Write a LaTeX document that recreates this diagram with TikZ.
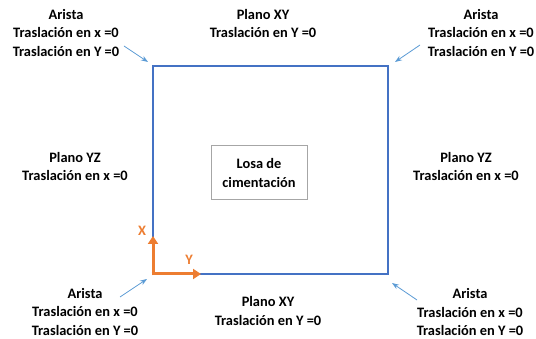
\documentclass[tikz,border=0pt]{standalone}
\usepackage{fontspec}
\setmainfont{Carlito}
\usetikzlibrary{arrows.meta}
\definecolor{slab}{HTML}{4472C4}
\definecolor{ptr}{HTML}{5B9BD5}
\definecolor{axis}{HTML}{ED7D31}
\definecolor{boxgrey}{HTML}{A6A6A6}
\tikzset{
  lbl/.style={align=center, font=\fontsize{14.4}{18.5}\selectfont\bfseries, inner sep=0pt},
  pointer/.style={ptr, line width=0.8pt, -{Stealth[length=7pt,width=5pt]}},
  axisarrow/.style={axis, line width=3pt, -{Triangle[length=8pt,width=10pt]}},
}
\begin{document}
\begin{tikzpicture}[x=1pt,y=-1pt]
\useasboundingbox[fill=white] (0,0) rectangle (536,339);
% main slab
\draw[slab, line width=1.2pt] (153,66) rectangle (388,274);
% inner box
\node[draw=boxgrey, line width=1pt, minimum width=96pt, minimum height=54pt, lbl] (losa) at (259,173) {Losa de\\cimentación};
% labels
\node[lbl] (tl) at (66,33) {Arista\\Traslación en x =0\\Traslación en Y =0};
\node[lbl] (tm) at (263,23.5) {Plano XY\\Traslación en Y =0};
\node[lbl] (tr) at (481,33) {Arista\\Traslación en x =0\\Traslación en Y =0};
\node[lbl] (ml) at (75,166.5) {Plano YZ\\Traslación en x =0};
\node[lbl] (mr) at (466,166.5) {Plano YZ\\Traslación en x =0};
\node[lbl] (bl) at (85,312) {Arista\\Traslación en x =0\\Traslación en Y =0};
\node[lbl] (bm) at (268,311) {Plano XY\\Traslación en Y =0};
\node[lbl] (br) at (470,312.5) {Arista\\Traslación en x =0\\Traslación en Y =0};
% pointers
\coordinate (p1) at (124,46);
\coordinate (p2) at (420,45);
\coordinate (p3) at (120,297);
\coordinate (p4) at (417,300);
\draw[pointer] (p1) -- (148,62);
\draw[pointer] (p2) -- (395,62);
\draw[pointer] (p3) -- (147,279);
\draw[pointer] (p4) -- (392,283);
% axes
\coordinate (xend) at (153,236);
\coordinate (yend) at (201,274);
\draw[axisarrow] (153,275.5) -- (xend);
\draw[axisarrow] (151.5,274) -- (yend);
\node[lbl, text=axis] (xl) at (142,231) {X};
\node[lbl, text=axis] (yl) at (189,260) {Y};
\end{tikzpicture}
\end{document}
